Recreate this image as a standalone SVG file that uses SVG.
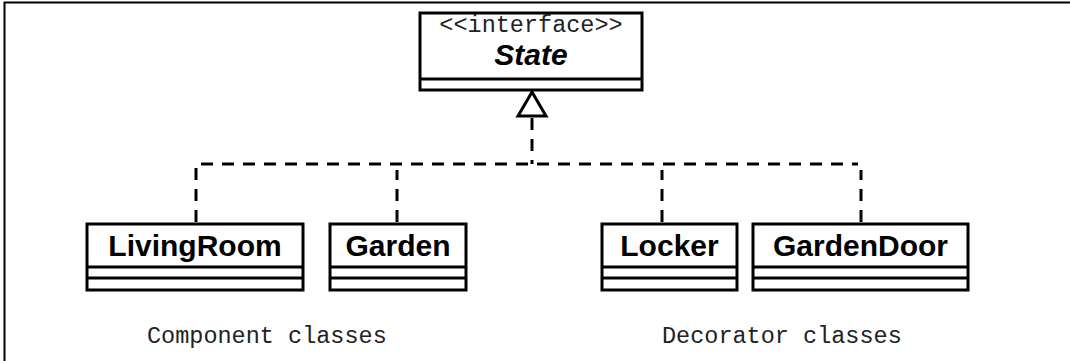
<svg xmlns="http://www.w3.org/2000/svg" width="1070" height="361" viewBox="0 0 1070 361">
<style>
.box{fill:#fff;stroke:#000;stroke-width:3}
.div{stroke:#000;stroke-width:3}
.name{font-family:"Liberation Sans",Arial,sans-serif;font-weight:bold;font-size:30px;text-anchor:middle;fill:#000}
.mono{font-family:"Liberation Mono","Courier New",monospace;font-size:23.5px;fill:#222;font-weight:300}
.dash{fill:none;stroke:#000;stroke-width:3;stroke-dasharray:12,9}
</style>
<rect x="0" y="0" width="1070" height="361" fill="#fff"/>
<path d="M4.5,361 V2.5 H1070" fill="none" stroke="#000" stroke-width="2"/>
<g id="connectors">
<path class="dash" d="M532,118 V164"/>
<path class="dash" d="M196,222 V164 H858"/>
<path class="dash" d="M397,222 V170"/>
<path class="dash" d="M662,222 V170"/>
<path class="dash" d="M861,222 V170"/>
<polygon points="532,92 518,116 546,116" fill="#fff" stroke="#000" stroke-width="3" stroke-linejoin="miter"/>
</g>
<g id="State">
<rect class="box" x="420" y="13" width="222" height="77"/>
<line class="div" x1="420" y1="79" x2="642" y2="79"/>
<text class="mono" x="531" y="32" text-anchor="middle">&lt;&lt;interface&gt;&gt;</text>
<text class="name" x="531" y="65" font-style="italic">State</text>
</g>
<g id="LivingRoom">
<rect class="box" x="87" y="224" width="216" height="66"/>
<line class="div" x1="87" y1="267" x2="303" y2="267"/>
<line class="div" x1="87" y1="278" x2="303" y2="278"/>
<text class="name" x="195" y="256">LivingRoom</text>
</g>
<g id="Garden">
<rect class="box" x="330" y="224" width="136" height="66"/>
<line class="div" x1="330" y1="267" x2="466" y2="267"/>
<line class="div" x1="330" y1="278" x2="466" y2="278"/>
<text class="name" x="398" y="256">Garden</text>
</g>
<g id="Locker">
<rect class="box" x="602" y="224" width="135" height="66"/>
<line class="div" x1="602" y1="267" x2="737" y2="267"/>
<line class="div" x1="602" y1="278" x2="737" y2="278"/>
<text class="name" x="669.5" y="256">Locker</text>
</g>
<g id="GardenDoor">
<rect class="box" x="753" y="224" width="215" height="66"/>
<line class="div" x1="753" y1="267" x2="968" y2="267"/>
<line class="div" x1="753" y1="278" x2="968" y2="278"/>
<text class="name" x="860.5" y="256">GardenDoor</text>
</g>
<text class="mono" x="147" y="343">Component classes</text>
<text class="mono" x="662" y="343">Decorator classes</text>
</svg>
